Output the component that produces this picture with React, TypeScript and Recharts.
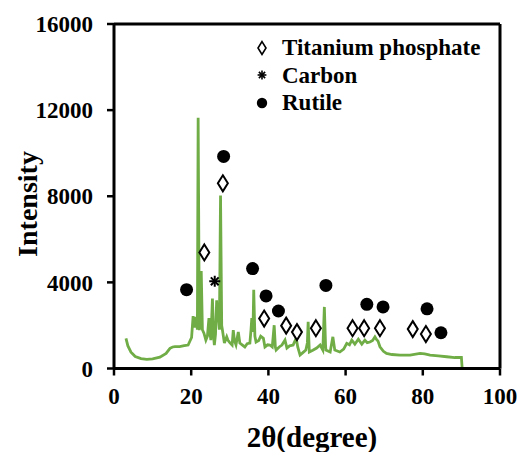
import {
  ComposedChart,
  Line,
  Scatter,
  XAxis,
  YAxis,
  Legend,
  Label,
} from 'recharts';

const twoTheta = [
  3.1, 3.6, 4.4, 5.5, 7.0, 8.5, 10.0, 11.9, 13.5, 14.5, 15.2, 15.8, 17.0, 18.2, 19.2,
  20.1, 20.5, 20.9, 21.3, 21.6, 21.8, 22.1, 22.4, 22.6, 22.9, 23.3, 23.8, 24.2, 24.6,
  24.9, 25.1, 25.5, 25.8, 26.0, 26.3, 26.6, 26.8, 27.0, 27.3, 27.6, 27.9, 28.1, 28.6,
  29.2, 29.5, 30.0, 30.6, 30.9, 31.2, 31.6, 32.2, 32.6, 33.2, 33.9, 34.5, 35.2, 35.5,
  35.7, 36.0, 36.2, 36.5, 36.8, 37.5, 38.0, 38.7, 39.1, 39.8, 40.4, 41.0, 41.5, 41.8,
  42.0, 42.8, 43.5, 44.3, 44.8, 45.5, 46.4, 47.2, 47.6, 48.2, 49.0, 49.7, 50.1, 50.3,
  50.6, 51.5, 52.5, 53.4, 54.1, 54.5, 54.8, 54.9, 56.0, 56.7, 57.2, 58.5, 59.5, 60.3,
  61.0, 61.6, 62.4, 63.3, 64.2, 65.0, 65.6, 66.3, 67.0, 67.6, 68.0, 68.4, 68.9, 69.8,
  70.6, 72.0, 74.1, 76.7, 79.3, 80.5, 81.9, 84.0, 86.2, 88.3, 90.0, 90.2,
];
const intensity = [
  1400, 1050, 760, 560, 460, 425, 450, 530, 700, 935, 1000, 1020, 1020, 1060, 1090,
  1440, 2430, 1900, 2400, 1800, 11650, 1780, 2200, 4530, 1800, 1640, 1320, 1500, 2340,
  1600, 1320, 3250, 1500, 1090, 1600, 3170, 2200, 2475, 1800, 8030, 2000, 1780, 1180,
  1470, 1320, 1200, 1090, 1780, 1300, 1100, 1700, 1180, 1100, 1000, 1150, 1180, 1800,
  2340, 1700, 3660, 1500, 1230, 1300, 1500, 1400, 1000, 1100, 1090, 1000, 2010, 1000,
  855, 1000, 1090, 1320, 950, 1050, 1090, 1410, 1000, 625, 750, 855, 1200, 2170,
  765, 850, 950, 1090, 855, 2860, 1100, 855, 765, 1470, 855, 765, 900, 1170,
  1100, 1320, 1130, 1365, 1130, 1320, 1200, 1230, 1300, 1470, 1350, 1270, 1010, 800,
  700, 650, 625, 625, 700, 680, 625, 590, 545, 510, 510, 0,
];

const titaniumX = [23.4, 28.2, 38.9, 44.6, 47.4, 52.3, 61.8, 64.8, 68.9, 77.4, 80.8];
const titaniumY = [5390, 8600, 2320, 1990, 1690, 1870, 1870, 1870, 1870, 1830, 1600];

const carbonX = [26.1];
const carbonY = [4050];

const rutileX = [18.8, 28.4, 35.9, 39.4, 42.6, 54.9, 65.5, 69.7, 81.1, 84.7];
const rutileY = [3660, 9850, 4640, 3370, 2670, 3860, 2980, 2860, 2770, 1660];

const xTicks = [0, 20, 40, 60, 80, 100];
const yTicks = [0, 4000, 8000, 12000, 16000];

const pattern = twoTheta.map((x, i) => ({ x, y: intensity[i] }));
const titanium = titaniumX.map((x, i) => ({ x, y: titaniumY[i] }));
const carbon = carbonX.map((x, i) => ({ x, y: carbonY[i] }));
const rutile = rutileX.map((x, i) => ({ x, y: rutileY[i] }));

const FONT = '"Liberation Serif", "Times New Roman", serif';

const Diamond = ({ cx, cy }: any) => (
  <path
    d={`M${cx},${cy - 8} L${cx + 5},${cy} L${cx},${cy + 8} L${cx - 5},${cy} Z`}
    fill="#fff"
    stroke="#000"
    strokeWidth={2}
  />
);

const Star = ({ cx, cy }: any) => {
  const r = 5.5;
  const lines = [0, 45, 90, 135].map((a) => {
    const rad = (a * Math.PI) / 180;
    return (
      <line
        key={a}
        x1={cx - r * Math.cos(rad)}
        y1={cy - r * Math.sin(rad)}
        x2={cx + r * Math.cos(rad)}
        y2={cy + r * Math.sin(rad)}
        stroke="#000"
        strokeWidth={2}
      />
    );
  });
  return <g>{lines}</g>;
};

const Dot = ({ cx, cy }: any) => <circle cx={cx} cy={cy} r={6.5} fill="#000" />;

const legendItems = [
  { name: 'Titanium phosphate', Shape: Diamond },
  { name: 'Carbon', Shape: Star },
  { name: 'Rutile', Shape: Dot },
];

function renderLegend() {
  return (
    <div style={{ fontFamily: FONT, fontWeight: 'bold', fontSize: 23, color: '#000', textAlign: 'left' }}>
      {legendItems.map(({ name, Shape }) => (
        <div key={name} style={{ display: 'flex', alignItems: 'center', height: 27.5 }}>
          <svg width={20} height={20} style={{ marginRight: 10 }}>
            <g transform="translate(10 10) scale(0.8) translate(-10 -10)">
              <Shape cx={10} cy={10} />
            </g>
          </svg>
          <span style={{ lineHeight: '27.5px' }}>{name}</span>
        </div>
      ))}
    </div>
  );
}

const tickStyle = { fontFamily: FONT, fontWeight: 'bold', fontSize: 23, fill: '#000' };
const frameLine = { stroke: '#000', strokeWidth: 3 };

export default function App() {
  return (
    <div style={{ position: 'absolute', left: 0, top: 0 }}>
      <ComposedChart
        width={521}
        height={452}
        margin={{ top: 23, right: 19, bottom: 53.5, left: 30 }}
      >
        <XAxis
          type="number"
          dataKey="x"
          domain={[0, 100]}
          ticks={xTicks}
          allowDataOverflow
          height={30}
          axisLine={frameLine}
          tickLine={{ stroke: '#000', strokeWidth: 2.5 }}
          tickSize={7}
          tickMargin={12}
          tick={tickStyle}
        >
          <Label
            content={() => (
              <text
                x={312}
                y={447}
                textAnchor="middle"
                style={{ fontFamily: FONT, fontWeight: 'bold', fontSize: 29 }}
                fill="#000"
              >
                2θ(degree)
              </text>
            )}
          />
        </XAxis>
        {/* top and right axes only close the plot box */}
        <XAxis
          xAxisId="top"
          orientation="top"
          type="number"
          domain={[0, 100]}
          height={1}
          axisLine={frameLine}
          tick={false}
          tickLine={false}
        />
        <YAxis
          type="number"
          dataKey="y"
          domain={[0, 16000]}
          ticks={yTicks}
          allowDataOverflow
          width={84}
          axisLine={frameLine}
          tickLine={{ stroke: '#000', strokeWidth: 2.5 }}
          tickSize={7}
          tickMargin={14}
          tick={tickStyle}
        >
          <Label
            content={() => (
              <text
                x={27}
                y={204}
                transform="rotate(-90 27 204)"
                textAnchor="middle"
                dominantBaseline="central"
                style={{ fontFamily: FONT, fontWeight: 'bold', fontSize: 28 }}
                fill="#000"
              >
                Intensity
              </text>
            )}
          />
        </YAxis>
        <YAxis
          yAxisId="right"
          orientation="right"
          type="number"
          domain={[0, 16000]}
          width={2}
          axisLine={frameLine}
          tick={false}
          tickLine={false}
        />
        <Line
          data={pattern}
          dataKey="y"
          type="linear"
          stroke="#70AD47"
          strokeWidth={2.8}
          dot={false}
          isAnimationActive={false}
          legendType="none"
        />
        <Scatter name="Titanium phosphate" data={titanium} dataKey="y" shape={<Diamond />} isAnimationActive={false} />
        <Scatter name="Carbon" data={carbon} dataKey="y" shape={<Star />} isAnimationActive={false} />
        <Scatter name="Rutile" data={rutile} dataKey="y" shape={<Dot />} isAnimationActive={false} />
        <Legend
          layout="horizontal"
          verticalAlign="middle"
          align="center"
          content={renderLegend}
          wrapperStyle={{ position: 'absolute', left: 252, top: 34, width: 270 }}
        />
      </ComposedChart>
    </div>
  );
}
